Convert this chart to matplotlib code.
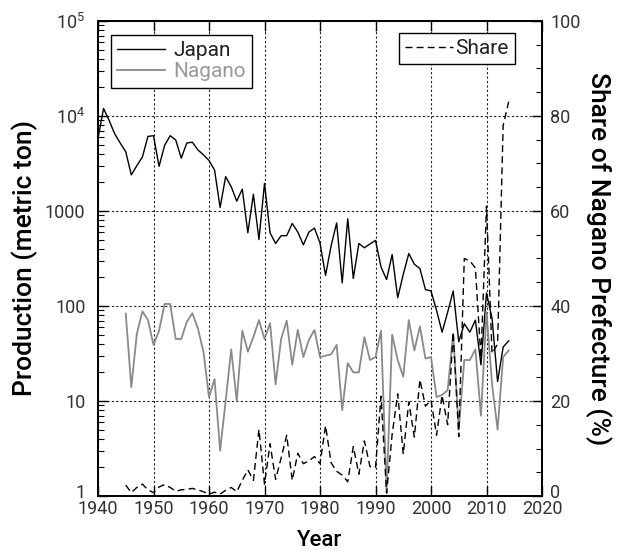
import matplotlib
matplotlib.use('Agg')
import matplotlib.pyplot as plt
from matplotlib.transforms import ScaledTranslation
from matplotlib.ticker import FixedLocator, FuncFormatter, LogLocator, MultipleLocator, NullFormatter

plt.rcParams['font.family'] = ['Roboto', 'DejaVu Sans']
plt.rcParams['mathtext.fontset'] = 'custom'
plt.rcParams['mathtext.rm'] = 'Roboto'
plt.rcParams['mathtext.it'] = 'Roboto:italic'

# ---------------- data ----------------
years_japan = list(range(1940, 2015))
japan = [5800, 12000, 9000, 6500, 5200, 4200, 2400, 3000, 3700, 6100,
         6200, 2950, 4900, 6200, 5600, 3600, 5200, 5300, 4400, 3900,
         3400, 2700, 1090, 2300, 1800, 1270, 1700, 590, 1500, 500,
         1950, 590, 455, 550, 550, 740, 600, 440, 600, 660,
         460, 210, 430, 750, 175, 830, 195, 455, 410, 450,
         490, 257, 190, 348, 122, 215, 357, 275, 248, 149,
         144, 90, 53, 86, 144, 42, 65, 53, 71, 24,
         137, 74, 16, 37, 43]

years_nagano = list(range(1945, 2015))
nagano = [83, 14, 51, 88, 71, 39, 55, 105, 105, 45,
          45, 68, 84, 58, 33, 11, 17, 3, 10, 35,
          10, 55, 33, 47, 71, 45, 66, 15, 45, 70,
          24, 56, 29, 44, 56, 29, 30, 31, 39, 8,
          25, 20, 20, 47, 27, 29, 55, 1.1, 50, 27,
          18, 71, 34, 61, 28, 29, 11, 11.6, 13, 51,
          5, 27, 27, 35, 7, 86, 15, 5, 29, 34]

share = [2.3, 0.7, 1.8, 2.5, 1.3, 0.7, 1.9, 2.4, 1.8, 1.0,
         1.3, 1.4, 1.6, 1.3, 0.9, 0.4, 0.8, 0.4, 1.2, 1.8,
         0.9, 3.3, 5.5, 3.3, 14.0, 2.5, 11.0, 3.5, 8.0, 12.8,
         3.3, 9.0, 6.8, 7.4, 8.3, 6.8, 14.8, 7.0, 5.2, 4.4,
         3.0, 10.4, 4.6, 11.6, 6.2, 6.0, 21.0, 0.6, 13.0, 21.5,
         8.8, 19.8, 12.4, 24.5, 18.9, 20.2, 12.8, 21.2, 15.0, 34.5,
         12.5, 50.0, 49.5, 48.0, 29.0, 61.0, 30.0, 32.0, 78.0, 83.0]

x_ticks = [1940, 1950, 1960, 1970, 1980, 1990, 2000, 2010, 2020]
y_ticks = [1, 10, 100, 1000, 1e4, 1e5]
y_tick_labels = ['1', '10', '100', '1000', r'$\mathregular{10^4}$', r'$\mathregular{10^5}$']

# ---------------- figure ----------------
W, H = 618, 554
fig = plt.figure(figsize=(W / 100, H / 100), dpi=100)
L, R, T, B = 98, 542, 21, 496
ax = fig.add_axes([L / W, 1 - B / H, (R - L) / W, (B - T) / H])

tick_color = '#333333'

ax.plot(years_japan, japan, color='black', lw=1.0, label='Japan', zorder=3)
ax.plot(years_nagano, nagano, color='#8a8a8a', lw=1.3, label='Nagano', zorder=3)
ax.set_yscale('log')
ax.set_ylim(1, 1e5)
ax.set_xlim(1940, 2020)
ax.yaxis.set_major_locator(FixedLocator(y_ticks))
ax.yaxis.set_major_formatter(FuncFormatter(lambda v, p: y_tick_labels[y_ticks.index(v)] if v in y_ticks else ''))
ax.yaxis.set_minor_locator(LogLocator(base=10, subs=range(2, 10), numticks=20))
ax.yaxis.set_minor_formatter(NullFormatter())
ax.xaxis.set_major_locator(FixedLocator(x_ticks))

ax.grid(True, which='major', ls=(0, (2, 2)), color='#222222', lw=0.8, zorder=1)
ax.tick_params(axis='both', which='major', direction='in', length=7, width=1,
               labelsize=13, labelcolor=tick_color, top=True, right=False)
ax.tick_params(axis='y', which='minor', direction='in', length=4, width=0.8, right=False)
ax.tick_params(axis='x', which='major', pad=3)
ax.tick_params(axis='y', which='major', pad=9)

for s in ax.spines.values():
    s.set_linewidth(1.3)

ax2 = ax.twinx()
ax2.plot(years_nagano, share, color='black', lw=1.0, ls=(0, (5, 3)), label='Share', zorder=3)
ax2.set_ylim(0, 100)
ax2.yaxis.set_major_locator(MultipleLocator(20))
ax2.yaxis.set_minor_locator(MultipleLocator(5))
ax2.tick_params(axis='y', which='major', direction='in', length=7, width=1,
                labelsize=13, labelcolor=tick_color, pad=6)
ax2.tick_params(axis='y', which='minor', direction='in', length=4, width=0.8)
for s in ax2.spines.values():
    s.set_linewidth(1.3)

lab_size = 19
ax.set_ylabel('Production (metric ton)', fontsize=lab_size, fontweight='medium')
ax.yaxis.set_label_coords((25 - L) / (R - L), 0.5)
ax.yaxis.label.set_verticalalignment('center')
ax.set_xlabel('Year', fontsize=16, fontweight='medium')
ax.xaxis.set_label_coords(0.5, (B - 540) / (B - T))
ax.xaxis.label.set_verticalalignment('center')
ax2.set_ylabel('Share of Nagano Prefecture (%)', fontsize=lab_size, fontweight='medium',
               rotation=270)
ax2.yaxis.set_label_coords((598 - L) / (R - L), 0.5)
ax2.yaxis.label.set_verticalalignment('center')

leg1 = ax.legend(loc='upper left', bbox_to_anchor=((111 - L) / (R - L), 1 - (35 - T) / (B - T)),
                 borderaxespad=0, fontsize=15, frameon=True, fancybox=False,
                 edgecolor='black', framealpha=1, handlelength=2.3, handletextpad=0.4,
                 borderpad=0.3, labelspacing=0.1, labelcolor=['#222222', '#999999'])
leg1.get_frame().set_linewidth(1.0)
leg1.set_zorder(10)

leg2 = ax2.legend(loc='upper right', bbox_to_anchor=((515 - L) / (R - L), 1 - (33 - T) / (B - T)),
                  borderaxespad=0, fontsize=15, frameon=True, fancybox=False,
                  edgecolor='black', framealpha=1, handlelength=2.3, handletextpad=0.1,
                  borderpad=0.3, labelcolor='#222222')
leg2.get_frame().set_linewidth(1.0)

# lift the lowest tick labels slightly so they clear the year labels (as in the reference)
fig.canvas.draw()
lift = ScaledTranslation(0, 5 / 100, fig.dpi_scale_trans)
for t in ax.yaxis.get_major_ticks():
    if t.label1.get_text() == '1':
        t.label1.set_transform(t.label1.get_transform() + lift)
for t in ax2.yaxis.get_major_ticks():
    if t.label2.get_text() == '0':
        t.label2.set_transform(t.label2.get_transform() + lift)

fig.savefig('out.png', dpi=100)
